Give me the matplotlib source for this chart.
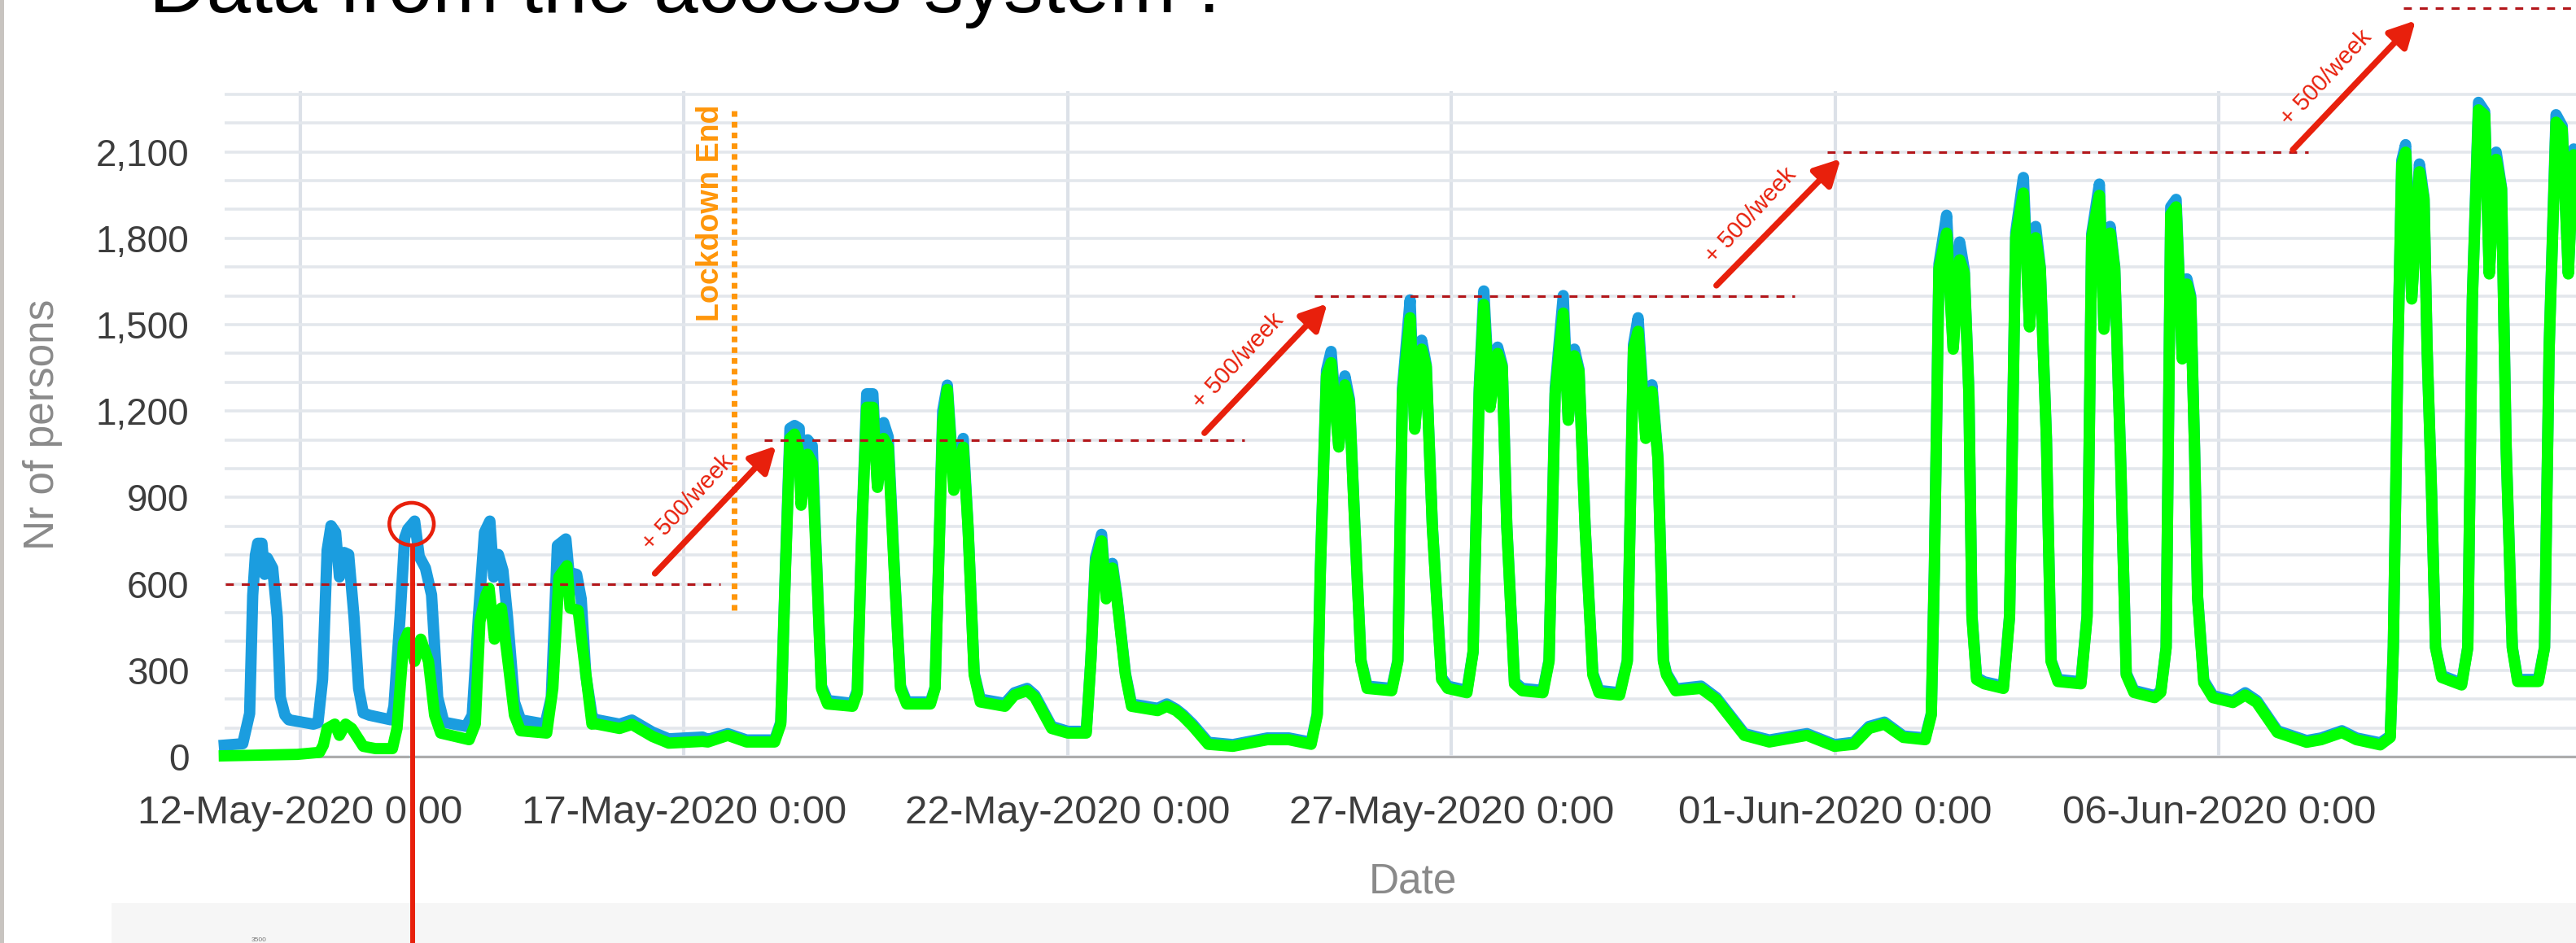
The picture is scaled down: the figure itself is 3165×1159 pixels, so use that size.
import numpy as np
import pandas as pd
import matplotlib
matplotlib.use("Agg")
import matplotlib.pyplot as plt
import matplotlib.dates as mdates
from matplotlib.patches import Ellipse, FancyArrowPatch, Rectangle, ArrowStyle

plt.rcParams['font.family'] = ['Liberation Sans', 'DejaVu Sans']

# ---------------- data (days after 12-May-2020 0:00, persons) ----------------
BASE_DATE = "2020-05-12 00:00"

blue_early = [(-0.99, 40), (-0.75, 45), (-0.66, 150), (-0.62, 560), (-0.585, 700), (-0.555, 741),
              (-0.50, 741), (-0.465, 633), (-0.43, 690), (-0.36, 655), (-0.30, 485), (-0.26, 206),
              (-0.20, 144), (-0.15, 128), (0.17, 113), (0.23, 118), (0.29, 268), (0.35, 717),
              (0.40, 802), (0.46, 779), (0.51, 624), (0.57, 709), (0.63, 702), (0.70, 485),
              (0.76, 237), (0.82, 152), (0.90, 144), (1.18, 128), (1.22, 175), (1.30, 485),
              (1.36, 760), (1.40, 790), (1.49, 818), (1.55, 695), (1.63, 655), (1.71, 562),
              (1.79, 206), (1.87, 120), (2.16, 105), (2.24, 144), (2.32, 485), (2.40, 779),
              (2.47, 818), (2.52, 624), (2.58, 702), (2.64, 647), (2.70, 485), (2.79, 190),
              (2.87, 128), (3.19, 113), (3.27, 206), (3.35, 733), (3.46, 756), (3.50, 640),
              (3.60, 633), (3.66, 548), (3.72, 284), (3.80, 144), (3.83, 130), (4.16, 113),
              (4.32, 127), (4.59, 85), (4.80, 62), (5.24, 68)]

green_early = [(-0.99, 3), (-0.04, 8), (0.25, 15), (0.30, 40), (0.35, 98), (0.45, 113), (0.51, 74),
               (0.59, 113), (0.67, 98), (0.82, 36), (0.98, 28), (1.20, 28), (1.26, 98),
               (1.345, 393), (1.405, 431), (1.49, 331), (1.57, 408), (1.67, 331), (1.75, 144),
               (1.83, 82), (2.20, 59), (2.28, 113), (2.34, 469), (2.42, 562), (2.46, 585),
               (2.53, 408), (2.62, 516), (2.72, 299), (2.79, 144), (2.87, 90), (3.21, 82),
               (3.29, 237), (3.37, 624), (3.475, 663), (3.515, 516), (3.62, 508), (3.70, 331),
               (3.80, 113), (3.83, 115), (4.16, 98), (4.32, 112), (4.59, 70), (4.80, 47), (5.24, 53)]

# (day, green, blue)
late_series = [
    (5.31, 51, 60), (5.57, 74, 80), (5.815, 51, 58), (6.18, 51, 58), (6.26, 113, 120),
    (6.32, 640, 650), (6.38, 1105, 1140), (6.44, 1120, 1150), (6.50, 1050, 1140), (6.525, 873, 900),
    (6.61, 1050, 1100), (6.67, 1020, 1080), (6.73, 640, 650), (6.79, 237, 245), (6.87, 183, 195),
    (7.195, 175, 185), (7.257, 222, 230), (7.318, 795, 800), (7.38, 1213, 1260), (7.46, 1213, 1260),
    (7.52, 935, 940), (7.60, 1105, 1160), (7.66, 1075, 1110), (7.74, 640, 650), (7.82, 237, 245),
    (7.90, 183, 190), (8.21, 183, 190), (8.27, 237, 240), (8.33, 795, 800), (8.37, 1160, 1200),
    (8.43, 1275, 1290), (8.514, 925, 955), (8.637, 1075, 1105), (8.70, 795, 800), (8.78, 284, 290),
    (8.86, 190, 200), (9.18, 175, 185), (9.305, 214, 222), (9.47, 229, 237), (9.57, 206, 214),
    (9.79, 98, 105), (10.0, 82, 88), (10.24, 82, 88), (10.30, 331, 335), (10.36, 671, 690),
    (10.44, 749, 772), (10.50, 548, 560), (10.58, 655, 671), (10.64, 548, 555), (10.75, 284, 290),
    (10.83, 175, 183), (11.17, 160, 168), (11.29, 175, 183), (11.41, 160, 165), (11.50, 140, 146),
    (11.63, 105, 112), (11.83, 43, 50), (12.15, 36, 42), (12.60, 59, 65), (12.88, 59, 65),
    (13.17, 43, 50), (13.25, 144, 150), (13.29, 640, 650), (13.37, 1322, 1340), (13.43, 1368, 1407),
    (13.53, 1075, 1080), (13.61, 1291, 1322), (13.67, 1229, 1240), (13.74, 795, 800),
    (13.82, 331, 335), (13.90, 237, 245), (14.22, 229, 237), (14.30, 331, 335), (14.36, 1260, 1280),
    (14.46, 1524, 1586), (14.52, 1137, 1140), (14.61, 1415, 1446), (14.67, 1353, 1360),
    (14.75, 795, 800), (14.87, 268, 275), (14.95, 237, 245), (15.20, 222, 230), (15.28, 362, 365),
    (15.36, 1260, 1280), (15.42, 1570, 1617), (15.50, 1213, 1215), (15.60, 1400, 1422),
    (15.66, 1353, 1360), (15.72, 795, 800), (15.82, 253, 260), (15.92, 229, 237), (16.19, 222, 230),
    (16.27, 331, 335), (16.35, 1260, 1280), (16.455, 1540, 1601), (16.52, 1168, 1170),
    (16.60, 1392, 1415), (16.66, 1338, 1345), (16.74, 795, 800), (16.84, 284, 290), (16.92, 222, 230),
    (17.19, 214, 222), (17.29, 331, 335), (17.37, 1415, 1430), (17.43, 1477, 1524), (17.53, 1105, 1110),
    (17.61, 1268, 1291), (17.69, 1029, 1035), (17.76, 331, 335), (17.80, 284, 290), (17.92, 229, 235),
    (18.25, 237, 245), (18.45, 198, 205), (18.815, 74, 80), (19.14, 51, 58), (19.63, 74, 80),
    (19.99, 36, 42), (20.24, 43, 50), (20.44, 98, 105), (20.64, 113, 120), (20.885, 67, 72),
    (21.17, 59, 65), (21.25, 144, 150), (21.29, 640, 650), (21.35, 1694, 1710), (21.45, 1818, 1880),
    (21.535, 1415, 1420), (21.62, 1725, 1787), (21.68, 1679, 1690), (21.74, 1260, 1265),
    (21.78, 485, 490), (21.84, 268, 275), (21.94, 253, 260), (22.19, 237, 245), (22.27, 485, 490),
    (22.35, 1802, 1820), (22.45, 1957, 2011), (22.53, 1492, 1495), (22.61, 1802, 1841),
    (22.67, 1694, 1700), (22.75, 1105, 1110), (22.81, 331, 335), (22.90, 261, 268), (23.20, 253, 260),
    (23.28, 485, 490), (23.34, 1802, 1815), (23.44, 1949, 1988), (23.50, 1484, 1490),
    (23.58, 1818, 1841), (23.64, 1694, 1700), (23.72, 1000, 1005), (23.79, 284, 290),
    (23.89, 223, 230), (24.16, 205, 212), (24.24, 223, 228), (24.31, 378, 380), (24.37, 1883, 1909),
    (24.44, 1909, 1935), (24.52, 1381, 1385), (24.58, 1641, 1659), (24.63, 1590, 1600),
    (24.68, 1070, 1075), (24.72, 551, 555), (24.80, 257, 265), (24.92, 205, 212), (25.18, 188, 195),
    (25.34, 214, 222), (25.49, 188, 195), (25.76, 84, 90), (26.14, 50, 56), (26.33, 59, 65),
    (26.60, 84, 90), (26.79, 59, 65), (27.10, 41, 48), (27.23, 67, 72), (27.27, 378, 380),
    (27.33, 1416, 1420), (27.38, 2056, 2070), (27.43, 2099, 2125), (27.51, 1589, 1595),
    (27.61, 2031, 2058), (27.67, 1935, 1940), (27.71, 1416, 1420), (27.77, 897, 900),
    (27.82, 378, 380), (27.90, 275, 282), (28.16, 249, 255), (28.24, 378, 380), (28.30, 1589, 1595),
    (28.38, 2246, 2272), (28.46, 2228, 2240), (28.52, 1676, 1680), (28.61, 2074, 2099),
    (28.68, 1970, 1975), (28.74, 1070, 1075), (28.82, 378, 380), (28.89, 261, 268), (29.16, 261, 268),
    (29.24, 378, 380), (29.30, 1416, 1420), (29.39, 2203, 2229), (29.47, 2177, 2190),
    (29.55, 1676, 1680), (29.62, 2090, 2110), (29.70, 1900, 1910)]

tick_dates = ["2020-05-12", "2020-05-17", "2020-05-22", "2020-05-27", "2020-06-01", "2020-06-06"]
tick_labels = ["12-May-2020 0:00", "17-May-2020 0:00", "22-May-2020 0:00",
               "27-May-2020 0:00", "01-Jun-2020 0:00", "06-Jun-2020 0:00"]
y_ticks = [0, 300, 600, 900, 1200, 1500, 1800, 2100]
y_tick_labels = ["0", "300", "600", "900", "1,200", "1,500", "1,800", "2,100"]

level_values = [600, 1100, 1600, 2100, 2600]
level_start_days = [-0.97, 6.04, 13.21, 19.89, 27.40]
level_end_days = [5.47, 12.30, 19.47, 26.16, 30.50]

arrow_tail_days = [4.62, 11.78, 18.45, 25.96]
arrow_tail_vals = [636, 1124, 1636, 2107]
arrow_tip_days = [6.20, 13.38, 20.07, 27.56]
arrow_tip_vals = [1079, 1573, 2076, 2556]
arrow_label = "+ 500/week"

lockdown_day = 5.653
lockdown_low, lockdown_high = 508, 2260
lockdown_label_day, lockdown_label_val = 5.35, 1887
lockdown_label = "Lockdown End"

highlight_day, highlight_val = 1.45, 808

title = "Data from the access system :"

# ---------------- figure ----------------
W, H = 3165, 1159
fig = plt.figure(figsize=(W / 100, H / 100), dpi=100)
fig.patch.set_facecolor("white")

BASE = pd.Timestamp(BASE_DATE)
X0 = mdates.date2num(BASE.to_pydatetime())


def dnum(d):
    return X0 + np.asarray(d, dtype=float)


def dtimes(d):
    return BASE + pd.to_timedelta(np.asarray(d, dtype=float), unit="D")


ax_left, ax_bottom_px, ax_top_px = 275.6, 930.0, 112.3
ax = fig.add_axes([ax_left / W, (H - ax_bottom_px) / H, (W - ax_left) / W,
                   (ax_bottom_px - ax_top_px) / H])
ax.set_facecolor("white")

RED = "#e8200c"
DRED = "#b3161a"
ORANGE = "#ff960a"
BLUE = "#1b9ddf"
GREEN = "#00ff00"

bd, bv = zip(*blue_early)
gd, gv = zip(*green_early)
ld, lg, lb = zip(*late_series)
blue_days = list(bd) + list(ld)
blue_vals = list(bv) + list(lb)
green_days = list(gd) + list(ld)
green_vals = list(gv) + list(lg)

ax.plot(dtimes(blue_days), blue_vals, color=BLUE, lw=10, clip_on=False, zorder=3,
        solid_joinstyle="round")
ax.plot(dtimes(green_days), green_vals, color=GREEN, lw=10, clip_on=False, zorder=4,
        solid_joinstyle="round")

ax.set_xlim(dnum(-0.99), dnum(29.65))
ax.set_ylim(0, 2310)

ax.set_xticks(mdates.date2num(pd.to_datetime(tick_dates).to_pydatetime()))
ax.set_xticklabels(tick_labels, fontsize=35.5, color="#3d3d3d")
ax.set_yticks(y_ticks)
ax.set_yticklabels(y_tick_labels, fontsize=33, color="#3d3d3d")
ax.set_yticks(np.arange(0, 2301, 100), minor=True)
ax.tick_params(axis="both", which="both", length=0)
ax.tick_params(axis="x", pad=34)
ax.tick_params(axis="y", pad=31)

ax.set_axisbelow(True)
ax.grid(True, axis="y", which="both", color="#e3e7ec", lw=2.6)
ax.grid(True, axis="x", which="major", color="#dce1e8", lw=3)
for s in ["top", "right", "left"]:
    ax.spines[s].set_visible(False)
ax.spines["bottom"].set_color("#a8a8a8")
ax.spines["bottom"].set_linewidth(2)

# level lines
for v, a, b in zip(level_values, level_start_days, level_end_days):
    ax.plot([dnum(a), dnum(b)], [v, v], color=DRED, lw=2.2, linestyle=(0, (3.2, 3.2)),
            clip_on=False, zorder=5)

# arrows and labels
for td, tv, hd, hv in zip(arrow_tail_days, arrow_tail_vals, arrow_tip_days, arrow_tip_vals):
    arr = FancyArrowPatch((dnum(td), tv), (dnum(hd), hv),
                          arrowstyle=ArrowStyle("-|>", head_length=1.9, head_width=1.0),
                          mutation_scale=10, lw=5.4, color=RED, shrinkA=0, shrinkB=0,
                          clip_on=False, zorder=6)
    ax.add_patch(arr)
    mx, mv = dnum((td + hd) / 2), (tv + hv) / 2
    ax.annotate(arrow_label, xy=(mx, mv), xytext=(-24.5, 6.1), textcoords="offset points",
                rotation=47, rotation_mode="anchor", ha="center", va="center",
                fontsize=21, color=RED, annotation_clip=False, zorder=6)

# lockdown marker
ax.plot([dnum(lockdown_day)] * 2, [lockdown_low, lockdown_high], color=ORANGE, lw=5,
        linestyle=(0, (1, 0.9)), solid_capstyle="butt", dash_capstyle="butt",
        clip_on=False, zorder=5)
ax.text(dnum(lockdown_label_day), lockdown_label_val, lockdown_label, rotation=90,
        ha="center", va="center", fontsize=27, fontweight="bold", color=ORANGE, zorder=6)

# highlight circle + pointer line
ax.add_patch(Ellipse((dnum(highlight_day), highlight_val), width=0.58, height=147, fill=False,
                     ec=RED, lw=3.3, clip_on=False, zorder=7))
ax.plot([dnum(highlight_day + 0.013)] * 2, [highlight_val - 74, -700], color=RED, lw=4.3,
        solid_capstyle="butt", clip_on=False, zorder=7)

# axis titles
fig.text(53 / W, 1 - 522 / H, "Nr of persons", rotation=90, ha="center", va="center",
         fontsize=37, color="#8a8a8a")
fig.text(1736 / W, (H - 1097) / H, "Date", ha="center", va="baseline", fontsize=37,
         color="#8a8a8a")

# slide title (cut at top, as in the screenshot)
fig.text(183 / W, 1 - 15 / H, title, ha="left", va="baseline", fontsize=70.5, color="black")

# slide decorations: left frame and faint next chart at bottom
fig.patches.append(Rectangle((0, 0), 5 / W, 1, transform=fig.transFigure,
                             facecolor="#c8c4c0", edgecolor="none", zorder=-1))
fig.patches.append(Rectangle((137 / W, 0), 1, 49 / H, transform=fig.transFigure,
                             facecolor="#f6f6f6", edgecolor="none", zorder=-1))
fig.text(318 / W, 0 / H, "3500", ha="center", va="bottom", fontsize=6, color="#777777")

fig.savefig("out.png", dpi=100)
